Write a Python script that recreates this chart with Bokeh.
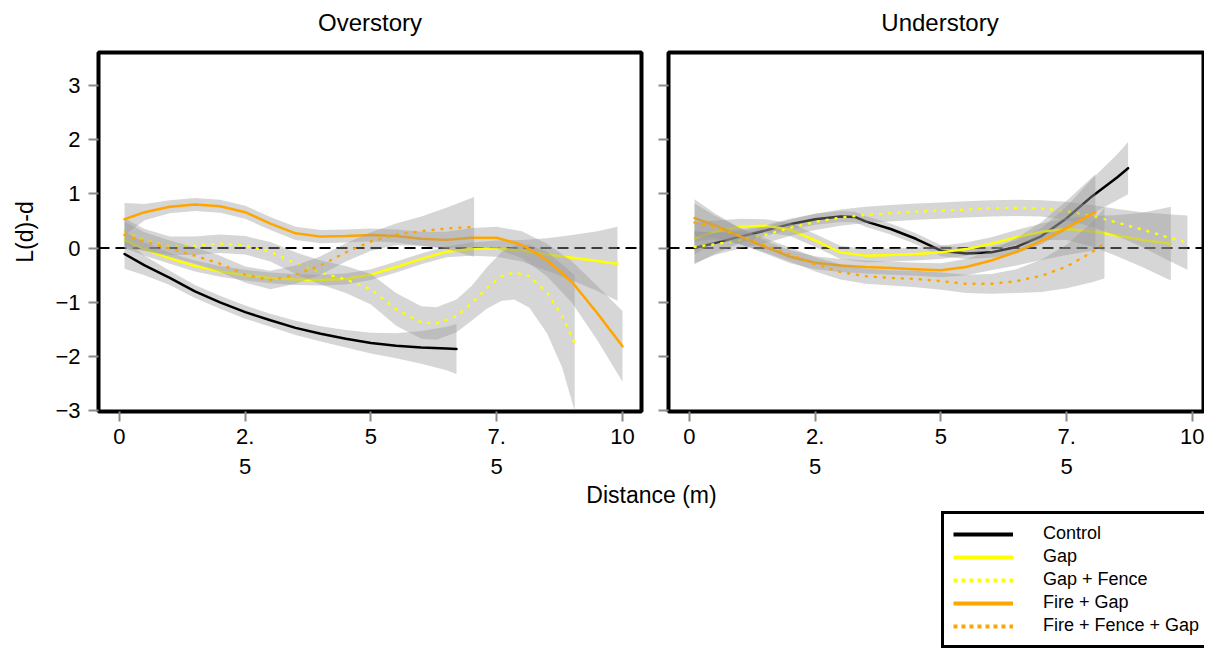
from bokeh.plotting import figure
from bokeh.layouts import column, row
from bokeh.models import Range1d, Span, FixedTicker, Legend, LegendItem, Label
from bokeh.embed import file_html
from bokeh.resources import INLINE

FONT = "Liberation Sans"

# ---------------- data ----------------
panel_titles = ["Overstory", "Understory"]
x_label = "Distance (m)"
y_label = "L(d)-d"
x_ticks = [0, 2.5, 5, 7.5, 10]
x_tick_labels = ["0", "2.\n5", "5", "7.\n5", "10"]
y_ticks = [-3, -2, -1, 0, 1, 2, 3]
series_names = ["Control", "Gap", "Gap + Fence", "Fire + Gap", "Fire + Fence + Gap"]

# Overstory: x, fitted y, half width of the grey confidence band
ov_control_x = [0.1, 0.5, 1.0, 1.5, 2.0, 2.5, 3.0, 3.5, 4.0, 4.5, 5.0, 5.5, 6.0, 6.5, 6.7]
ov_control_y = [-0.11, -0.32, -0.55, -0.80, -1.0, -1.18, -1.33, -1.47, -1.58, -1.67, -1.75, -1.80, -1.83, -1.85, -1.86]
ov_control_ci = [0.27, 0.18, 0.13, 0.12, 0.12, 0.12, 0.12, 0.13, 0.14, 0.16, 0.19, 0.23, 0.30, 0.40, 0.46]

ov_gap_x = [0.1, 0.5, 1.0, 1.5, 2.0, 2.5, 3.0, 3.5, 4.0, 4.5, 5.0, 5.5, 6.0, 6.5, 7.0, 7.5, 8.0, 8.5, 9.0, 9.5, 9.9]
ov_gap_y = [0.15, -0.02, -0.19, -0.33, -0.43, -0.50, -0.55, -0.58, -0.59, -0.57, -0.49, -0.35, -0.20, -0.07, -0.02, -0.01, -0.05, -0.12, -0.18, -0.24, -0.29]
ov_gap_ci = [0.15, 0.12, 0.1, 0.1, 0.1, 0.1, 0.1, 0.1, 0.1, 0.1, 0.1, 0.1, 0.1, 0.1, 0.12, 0.15, 0.2, 0.3, 0.42, 0.55, 0.68]

ov_gapf_x = [0.1, 0.5, 1.0, 1.5, 2.0, 2.5, 3.0, 3.5, 4.0, 4.5, 5.0, 5.5, 6.0, 6.3, 6.7, 7.0, 7.3, 7.6, 7.85, 8.15, 8.5, 8.8, 9.05]
ov_gapf_y = [0.30, 0.15, 0.04, 0.04, 0.08, 0.05, -0.07, -0.28, -0.45, -0.58, -0.76, -1.13, -1.37, -1.39, -1.25, -1.02, -0.74, -0.52, -0.45, -0.52, -0.82, -1.25, -1.75]
ov_gapf_ci = [0.25, 0.2, 0.17, 0.17, 0.17, 0.17, 0.18, 0.2, 0.22, 0.25, 0.28, 0.3, 0.3, 0.3, 0.3, 0.32, 0.38, 0.45, 0.5, 0.58, 0.75, 0.95, 1.25]

ov_fire_x = [0.1, 0.5, 1.0, 1.5, 2.0, 2.5, 3.0, 3.5, 4.0, 4.5, 5.0, 5.5, 6.0, 6.5, 7.0, 7.5, 8.0, 8.5, 9.0, 9.5, 10.0]
ov_fire_y = [0.53, 0.66, 0.76, 0.80, 0.77, 0.66, 0.45, 0.27, 0.21, 0.22, 0.24, 0.22, 0.17, 0.15, 0.19, 0.19, 0.06, -0.22, -0.63, -1.2, -1.81]
ov_fire_ci = [0.3, 0.15, 0.12, 0.12, 0.12, 0.12, 0.12, 0.12, 0.12, 0.12, 0.12, 0.12, 0.13, 0.15, 0.18, 0.2, 0.25, 0.3, 0.38, 0.5, 0.65]

ov_firef_x = [0.1, 0.5, 1.0, 1.5, 2.0, 2.5, 3.0, 3.5, 4.0, 4.5, 5.0, 5.5, 6.0, 6.5, 7.05]
ov_firef_y = [0.24, 0.12, -0.01, -0.14, -0.29, -0.49, -0.59, -0.49, -0.32, -0.08, 0.12, 0.25, 0.31, 0.36, 0.39]
ov_firef_ci = [0.25, 0.17, 0.15, 0.15, 0.15, 0.15, 0.17, 0.17, 0.17, 0.17, 0.17, 0.2, 0.27, 0.38, 0.55]

# Understory
un_control_x = [0.1, 0.5, 1.0, 1.5, 2.0, 2.5, 3.0, 3.3, 3.5, 4.0, 4.5, 5.0, 5.5, 6.0, 6.5, 7.0, 7.5, 8.0, 8.5, 8.72]
un_control_y = [0.0, 0.09, 0.21, 0.32, 0.44, 0.53, 0.58, 0.57, 0.49, 0.35, 0.17, -0.05, -0.10, -0.08, 0.02, 0.22, 0.55, 0.95, 1.30, 1.47]
un_control_ci = [0.3, 0.2, 0.12, 0.1, 0.1, 0.1, 0.1, 0.1, 0.1, 0.1, 0.1, 0.1, 0.1, 0.1, 0.12, 0.15, 0.22, 0.32, 0.42, 0.48]

un_gap_x = [0.1, 0.5, 1.0, 1.5, 2.0, 2.5, 3.0, 3.5, 4.0, 4.5, 5.0, 5.5, 6.0, 6.5, 7.0, 7.5, 8.0, 8.5, 9.0, 9.57]
un_gap_y = [0.18, 0.30, 0.39, 0.41, 0.34, 0.14, -0.08, -0.14, -0.13, -0.11, -0.08, -0.02, 0.08, 0.20, 0.30, 0.35, 0.31, 0.23, 0.15, 0.08]
un_gap_ci = [0.3, 0.2, 0.15, 0.12, 0.12, 0.12, 0.12, 0.12, 0.12, 0.12, 0.12, 0.12, 0.12, 0.13, 0.15, 0.2, 0.28, 0.38, 0.5, 0.68]

un_gapf_x = [0.1, 0.5, 1.0, 1.5, 2.0, 2.5, 3.0, 3.5, 4.0, 4.5, 5.0, 5.5, 6.0, 6.5, 7.0, 7.5, 8.0, 8.5, 9.0, 9.5, 9.9]
un_gapf_y = [0.02, 0.07, 0.14, 0.24, 0.37, 0.48, 0.56, 0.61, 0.64, 0.67, 0.69, 0.71, 0.73, 0.74, 0.73, 0.68, 0.59, 0.47, 0.34, 0.20, 0.10]
un_gapf_ci = [0.3, 0.2, 0.15, 0.15, 0.15, 0.15, 0.15, 0.15, 0.15, 0.15, 0.15, 0.15, 0.15, 0.15, 0.15, 0.17, 0.2, 0.25, 0.32, 0.42, 0.5]

un_fire_x = [0.1, 0.5, 1.0, 1.5, 2.0, 2.5, 3.0, 3.5, 4.0, 4.5, 5.0, 5.5, 6.0, 6.5, 7.0, 7.5, 8.07]
un_fire_y = [0.55, 0.42, 0.22, 0.02, -0.16, -0.27, -0.32, -0.35, -0.37, -0.39, -0.41, -0.35, -0.23, -0.07, 0.13, 0.37, 0.66]
un_fire_ci = [0.35, 0.22, 0.15, 0.12, 0.12, 0.12, 0.12, 0.12, 0.12, 0.12, 0.13, 0.15, 0.18, 0.25, 0.35, 0.5, 0.7]

un_firef_x = [0.1, 0.5, 1.0, 1.5, 2.0, 2.5, 3.0, 3.5, 4.0, 4.5, 5.0, 5.5, 6.0, 6.5, 7.0, 7.5, 8.0, 8.25]
un_firef_y = [0.47, 0.38, 0.22, 0.05, -0.12, -0.30, -0.44, -0.52, -0.55, -0.57, -0.61, -0.66, -0.66, -0.61, -0.51, -0.34, -0.08, 0.09]
un_firef_ci = [0.35, 0.22, 0.15, 0.13, 0.13, 0.13, 0.14, 0.14, 0.14, 0.15, 0.16, 0.17, 0.18, 0.22, 0.3, 0.4, 0.55, 0.65]

overstory = [(ov_control_x, ov_control_y, ov_control_ci), (ov_gap_x, ov_gap_y, ov_gap_ci),
             (ov_gapf_x, ov_gapf_y, ov_gapf_ci), (ov_fire_x, ov_fire_y, ov_fire_ci),
             (ov_firef_x, ov_firef_y, ov_firef_ci)]
understory = [(un_control_x, un_control_y, un_control_ci), (un_gap_x, un_gap_y, un_gap_ci),
              (un_gapf_x, un_gapf_y, un_gapf_ci), (un_fire_x, un_fire_y, un_fire_ci),
              (un_firef_x, un_firef_y, un_firef_ci)]

# ---------------- styles / layout ----------------
line_colors = ["#000000", "#FFFF00", "#FFFF00", "#FFA500", "#FFA500"]
line_dashes = ["solid", "solid", "1 8", "solid", "1 8"]
legend_dashes = ["solid", "solid", "4 4", "solid", "4 4"]
band_color = "#999999"
TOTAL_W = 1204
STRIP_H = 48          # strip with the facet titles
FRAME_TOP_PAD = 4
FRAME_H = 359
PANEL_H = 434
LEFT_W, RIGHT_W = 654, 550


def make_panel(series, width, border_left, border_right, x_end, show_y_labels):
    p = figure(width=width, height=PANEL_H, x_range=Range1d(-0.417, x_end), y_range=Range1d(-3.01, 3.60),
               toolbar_location=None, output_backend="svg",
               min_border_left=border_left, min_border_right=border_right,
               min_border_top=FRAME_TOP_PAD, min_border_bottom=PANEL_H - FRAME_TOP_PAD - FRAME_H,
               background_fill_color="white", border_fill_color="white")
    p.outline_line_color = "black"
    p.outline_line_width = 4
    p.grid.visible = False

    zero = Span(location=0, dimension="width", line_color="black", line_width=2,
                line_dash="11 6", level="underlay")
    p.add_layout(zero)

    for (xs, ys, ci), color, dash in zip(series, line_colors, line_dashes):
        lo = [y - c for y, c in zip(ys, ci)]
        hi = [y + c for y, c in zip(ys, ci)]
        p.varea(x=xs, y1=lo, y2=hi, fill_color=band_color, fill_alpha=0.4)
        p.line(x=xs, y=ys, line_color=color, line_width=2.5, line_dash=dash, line_cap="round")

    for ax in (p.xaxis[0], p.yaxis[0]):
        ax.axis_line_color = None
        ax.major_tick_out = 10
        ax.major_tick_in = 0
        ax.minor_tick_line_color = None
        ax.major_tick_line_color = "#8c8c8c"
        ax.major_tick_line_width = 2
        ax.major_label_text_font = FONT
        ax.major_label_text_font_size = "22px"
        ax.major_label_text_color = "black"

    p.xaxis.ticker = FixedTicker(ticks=x_ticks)
    p.xaxis.major_label_overrides = {t: lab for t, lab in zip(x_ticks, x_tick_labels)}
    p.xaxis.major_label_standoff = 2
    p.yaxis.ticker = FixedTicker(ticks=y_ticks)
    if show_y_labels:
        p.yaxis.major_label_standoff = 8
        p.yaxis.axis_label = y_label
        p.yaxis.axis_label_text_font = FONT
        p.yaxis.axis_label_text_font_size = "23px"
        p.yaxis.axis_label_text_font_style = "normal"
        p.yaxis.axis_label_text_color = "black"
        p.yaxis.axis_label_standoff = 14
    else:
        p.yaxis.major_label_overrides = {t: "" for t in y_ticks}
        p.yaxis.major_label_standoff = 0
    return p


def strip(height):
    s = figure(width=TOTAL_W, height=height, x_range=Range1d(0, 1), y_range=Range1d(100, 101),
               toolbar_location=None, output_backend="svg", min_border=0,
               outline_line_color=None, x_axis_location=None, y_axis_location=None)
    s.grid.visible = False
    return s


# facet titles
top = strip(STRIP_H)
for title, cx in zip(panel_titles, [98 + 271.5, 668 + 271.5]):
    top.add_layout(Label(x=cx, y=STRIP_H - 22, x_units="screen", y_units="screen", text=title,
                         text_font=FONT, text_font_size="24px", text_align="center",
                         text_baseline="middle", text_color="black"))

left = make_panel(overstory, LEFT_W, 98, 13, 10.378, True)
right = make_panel(understory, RIGHT_W, 14, 0, 10.239, False)

BOT_H = 649 - STRIP_H - PANEL_H
bottom = strip(BOT_H)
bottom.add_layout(Label(x=651, y=BOT_H - (494 - STRIP_H - PANEL_H), x_units="screen", y_units="screen",
                        text=x_label, text_font=FONT, text_font_size="23px", text_align="center",
                        text_baseline="middle", text_color="black"))

# legend glyphs: the overstory curves, drawn outside the visible range of this strip
items = []
for (xs, ys, _), name, color, dash in zip(overstory, series_names, line_colors, legend_dashes):
    r = bottom.line(x=xs, y=ys, line_color=color, line_width=4, line_dash=dash)
    items.append(LegendItem(label=name, renderers=[r]))
legend = Legend(items=items, location=(941, 1), orientation="vertical",
                border_line_color="black", border_line_width=3, border_line_alpha=1,
                background_fill_color="white", background_fill_alpha=1,
                padding=9, spacing=2, margin=0,
                label_height=20, glyph_height=20, glyph_width=60, label_standoff=30,
                label_text_font=FONT, label_text_font_size="18px", label_text_color="black")
bottom.add_layout(legend)

layout = column(top, row(left, right), bottom)
open("out.html", "w").write(file_html(layout, INLINE))
